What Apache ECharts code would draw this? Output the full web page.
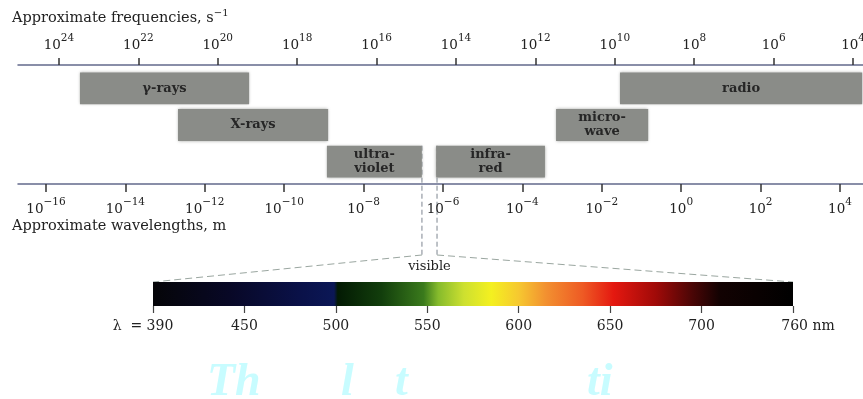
<!DOCTYPE html>
<html><head><meta charset="utf-8">
<script src="https://cdn.jsdelivr.net/npm/echarts@6/dist/echarts.min.js"></script>
<style>html,body{margin:0;padding:0;background:#fff}#c{width:863px;height:399px}</style>
</head><body><div id="c"></div><script>
// ---- data ----
const freqTicks = [24, 22, 20, 18, 16, 14, 12, 10, 8, 6, 4];          // log10 frequency, s^-1
const waveTicks = [-16, -14, -12, -10, -8, -6, -4, -2, 0, 2, 4];        // log10 wavelength, m
const bandNames = ['γ-rays', 'X-rays', 'ultra-\nviolet', 'infra-\nred', 'micro-\nwave', 'radio'];
const bandFrom  = [23.47, 21.0, 17.25, 14.5, 11.48, 9.87];               // log10 frequency (high end)
const bandTo    = [19.21, 17.22, 14.86, 11.76, 9.16, 3.77];              // log10 frequency (low end)
const bandRow   = [0, 1, 2, 2, 1, 0];
const visibleEdges = [-6.53, -6.15];                                     // log10 wavelength, m
const spectrumTicks = ['390', '450', '500', '550', '600', '650', '700', '760'];   // nm
const spectrumNm    = [390, 440, 480, 499, 501, 525, 548, 556, 570, 585, 600, 615, 635, 652, 675, 695, 712, 760];
const spectrumColor = ['#050508', '#080826', '#0a1148', '#0b1756', '#031a03', '#123e0c', '#3a7a1c', '#86bb2c', '#cde030',
                       '#f4f020', '#f6c830', '#f29030', '#ee5a24', '#e41810', '#a00a08', '#4a0606', '#120202', '#000000'];

// ---- helpers ----
const SERIF = '"DejaVu Serif", "Liberation Serif", serif';
const tickNm = spectrumTicks.map(Number);
function nmToFrac(nm) {
  for (let i = 0; i < tickNm.length - 1; i++) {
    if (nm <= tickNm[i + 1]) return (i + (nm - tickNm[i]) / (tickNm[i + 1] - tickNm[i])) / (tickNm.length - 1);
  }
  return 1;
}
function powLabel(v) {
  const e = v < 0 ? '\u2212' + Math.abs(v) : String(v);
  return '{b|10}{s|' + e + '}';
}
const powRich = {
  b: { fontFamily: SERIF, fontSize: 13.5, color: '#222', lineHeight: 19, verticalAlign: 'bottom' },
  s: { fontFamily: SERIF, fontSize: 10.5, color: '#222', lineHeight: 10, verticalAlign: 'top' }
};
const axisLineColor = '#636a8c';

const chart = echarts.init(document.getElementById('c'), null, { renderer: 'canvas' });

const bandData = bandNames.map((n, i) => [bandFrom[i], bandTo[i], bandRow[i], n]);

const option = {
  animation: false,
  backgroundColor: '#ffffff',
  grid: [
    { left: 18, top: 65, width: 845, height: 119, outerBoundsMode: 'none', containLabel: false },   // axes
    { left: 18, top: 70, width: 845, height: 110, outerBoundsMode: 'none', containLabel: false },   // bands
    { left: 153, top: 282, width: 640, height: 24, outerBoundsMode: 'none', containLabel: false }   // visible spectrum
  ],
  xAxis: [
    { gridIndex: 0, type: 'value', position: 'top', inverse: true, min: 3.75, max: 25.03,
      axisLine: { show: true, onZero: false, lineStyle: { color: axisLineColor, width: 1.5 } },
      axisTick: { show: true, length: 7, customValues: freqTicks, lineStyle: { color: '#333', width: 1.5 } },
      axisLabel: { show: true, customValues: freqTicks, margin: 13, formatter: powLabel, rich: powRich, hideOverlap: false },
      splitLine: { show: false } },
    { gridIndex: 0, type: 'value', position: 'bottom', min: -16.705, max: 4.58,
      axisLine: { show: true, onZero: false, lineStyle: { color: axisLineColor, width: 1.5 } },
      axisTick: { show: true, length: 8, customValues: waveTicks, lineStyle: { color: '#333', width: 1.5 } },
      axisLabel: { show: true, customValues: waveTicks, margin: 13, formatter: powLabel, rich: powRich, hideOverlap: false },
      splitLine: { show: false } },
    { gridIndex: 1, type: 'value', inverse: true, min: 3.75, max: 25.03, show: false },
    { gridIndex: 2, type: 'category', data: spectrumTicks, boundaryGap: false, position: 'bottom', offset: 4,
      axisLine: { show: false },
      axisTick: { show: true, length: 7, lineStyle: { color: '#444', width: 1.2 } },
      axisLabel: {
        margin: 9, interval: 0, hideOverlap: false,
        formatter: (v, i) => i === 0 ? '{f|λ  = ' + v + '}' : (i === spectrumTicks.length - 1 ? '{l|' + v + ' nm}' : '{n|' + v + '}'),
        rich: {
          n: { fontFamily: SERIF, fontSize: 14, color: '#222' },
          f: { fontFamily: SERIF, fontSize: 14, color: '#222', padding: [0, 20, 0, 0] },
          l: { fontFamily: SERIF, fontSize: 14, color: '#222', padding: [0, 0, 0, 30] }
        }
      } }
  ],
  yAxis: [
    { gridIndex: 0, type: 'value', show: false, min: 0, max: 1 },
    { gridIndex: 1, type: 'category', data: ['0', '1', '2'], inverse: true, show: false },
    { gridIndex: 2, type: 'value', show: false, min: 0, max: 1 }
  ],
  series: [
    {
      type: 'custom', xAxisIndex: 2, yAxisIndex: 1, data: bandData, silent: true,
      renderItem: function (params, api) {
        const p1 = api.coord([api.value(0), api.value(2)]);
        const p2 = api.coord([api.value(1), api.value(2)]);
        const h = api.size([0, 1])[1] * 0.87;
        const name = bandNames[params.dataIndex];
        return { type: 'group', children: [
          { type: 'rect', shape: { x: p1[0], y: p1[1] - h / 2, width: p2[0] - p1[0], height: h },
            style: { fill: '#8a8c88', shadowBlur: 3, shadowColor: 'rgba(138,140,136,0.8)' } },
          { type: 'text', style: { text: name, x: (p1[0] + p2[0]) / 2, y: p1[1], align: 'center', verticalAlign: 'middle',
            font: 'bold 13px ' + SERIF, fill: '#262626', lineHeight: 14 } }
        ] };
      }
    },
    {
      type: 'custom', xAxisIndex: 3, yAxisIndex: 2, silent: true,
      data: [[0, spectrumTicks.length - 1]],
      renderItem: function (params, api) {
        const a = api.coord([spectrumTicks[0], 1]);
        const b = api.coord([spectrumTicks[spectrumTicks.length - 1], 0]);
        const stops = spectrumNm.map((nm, i) => ({ offset: nmToFrac(nm), color: spectrumColor[i] }));
        return { type: 'rect', shape: { x: a[0], y: a[1], width: b[0] - a[0], height: b[1] - a[1] },
          style: { fill: new echarts.graphic.LinearGradient(0, 0, 1, 0, stops) } };
      }
    }
  ]
};
chart.setOption(option);

// ---- connecting dashed lines ----
const xL = chart.convertToPixel({ xAxisIndex: 1 }, visibleEdges[0]);
const xR = chart.convertToPixel({ xAxisIndex: 1 }, visibleEdges[1]);
const rowY = chart.convertToPixel({ yAxisIndex: 1 }, '2');
const bandH = 110 / 3 * 0.87;
const yTop = rowY - bandH / 2;
const sL = chart.convertToPixel({ xAxisIndex: 3 }, spectrumTicks[0]);
const sR = chart.convertToPixel({ xAxisIndex: 3 }, spectrumTicks[spectrumTicks.length - 1]);
const sTop = chart.convertToPixel({ yAxisIndex: 2 }, 1);
const knee = sTop - 27;
const dash = { stroke: '#7d8590', lineWidth: 1, lineDash: [5, 3] };
const dash2 = { stroke: '#9aa6a0', lineWidth: 1, lineDash: [7, 4] };

chart.setOption({
  graphic: [
    { type: 'text', left: 12, top: 8, style: { rich: { a: { font: '14.5px ' + SERIF, fill: '#222', lineHeight: 18, verticalAlign: 'bottom' }, s: { font: '10px ' + SERIF, fill: '#222', verticalAlign: 'top', lineHeight: 10 } },
      text: '{a|Approximate frequencies, s}{s|\u22121}' } },
    { type: 'text', left: 12, top: 219, style: { text: 'Approximate wavelengths, m', font: '14.5px ' + SERIF, fill: '#222' } },
    { type: 'line', shape: { x1: xL, y1: yTop, x2: xL, y2: knee }, style: dash },
    { type: 'line', shape: { x1: xR, y1: yTop, x2: xR, y2: knee }, style: dash },
    { type: 'line', shape: { x1: xL, y1: knee, x2: sL, y2: sTop }, style: dash2 },
    { type: 'line', shape: { x1: xR, y1: knee, x2: sR, y2: sTop }, style: dash2 },
    { type: 'text', x: (xL + xR) / 2, y: knee + 12, style: { text: 'visible', font: '13px ' + SERIF, fill: '#222', align: 'center', verticalAlign: 'middle' } },
    { type: 'text', x: 207, y: 360, style: { text: 'Th', font: 'italic bold 46px "Liberation Serif", serif', fill: '#c8fcff' } },
    { type: 'text', x: 341, y: 360, style: { text: 'l', font: 'italic bold 46px "Liberation Serif", serif', fill: '#c8fcff' } },
    { type: 'text', x: 395, y: 360, style: { text: 't', font: 'italic bold 46px "Liberation Serif", serif', fill: '#c8fcff' } },
    { type: 'text', x: 587, y: 360, style: { text: 'ti', font: 'italic bold 46px "Liberation Serif", serif', fill: '#c8fcff' } }
  ]
});
</script></body></html>
